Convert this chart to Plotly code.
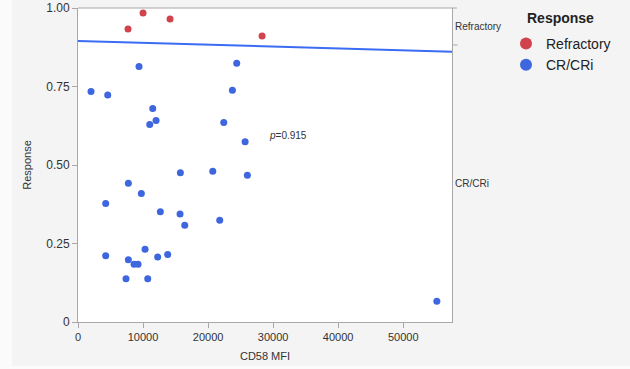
import plotly.graph_objects as go

# Data
refractory_x = [7690, 10000, 14150, 28300]
refractory_y = [0.933, 0.984, 0.965, 0.911]

cr_x = [2000, 4570, 9380, 24400, 23740, 11490, 12000, 11030, 15740, 7740,
        9740, 4260, 12660, 22410, 25690, 20720, 26040, 15690, 16410, 4260,
        7740, 8620, 9230, 10310, 12250, 13790, 7380, 10720, 21790, 55170]
cr_y = [0.734, 0.723, 0.814, 0.824, 0.738, 0.680, 0.642, 0.629, 0.475, 0.442,
        0.409, 0.377, 0.351, 0.635, 0.574, 0.480, 0.467, 0.344, 0.308, 0.211,
        0.198, 0.184, 0.184, 0.232, 0.207, 0.215, 0.138, 0.138, 0.324, 0.066]

fit_x = [0, 57500]
fit_y = [0.895, 0.861]

x_ticks = [0, 10000, 20000, 30000, 40000, 50000]
x_tick_text = ["0", "10000", "20000", "30000", "40000", "50000"]
y_ticks = [0, 0.25, 0.5, 0.75, 1.0]
y_tick_text = ["0", "0.25", "0.50", "0.75", "1.00"]

p_label = "<i>p</i>=0.915"
p_pos = (32300, 0.594)

RED = "#d0434c"
BLUE = "#3e66de"
LINE = "#3a6cf4"
AXIS = "#a8a8a8"
TXT = "#333333"
FONT = "Liberation Sans, Arial, sans-serif"

cr_frac = len(cr_x) / (len(cr_x) + len(refractory_x))

fig = go.Figure()
fig.add_trace(go.Scatter(x=fit_x, y=fit_y, mode="lines",
                         line=dict(color=LINE, width=2), showlegend=False,
                         hoverinfo="skip"))
fig.add_trace(go.Scatter(x=refractory_x, y=refractory_y, mode="markers",
                         name="Refractory",
                         marker=dict(color=RED, size=7)))
fig.add_trace(go.Scatter(x=cr_x, y=cr_y, mode="markers", name="CR/CRi",
                         marker=dict(color=BLUE, size=7)))
fig.add_trace(go.Scatter(x=[None], y=[None], yaxis="y2", showlegend=False))

fig.add_annotation(x=p_pos[0], y=p_pos[1], text=p_label, showarrow=False,
                   font=dict(size=10, color=TXT, family=FONT))
# legend title
fig.add_annotation(x=(525 - 78) / 374, y=(322 - 18) / 314, xref="paper",
                   yref="paper", xanchor="left", yanchor="middle",
                   text="<b>Response</b>", showarrow=False,
                   font=dict(size=14, color="#222222", family=FONT))

# white outer strips (left and bottom of the image)
fig.add_shape(type="rect", xref="paper", yref="paper", layer="below",
              x0=-0.3, x1=(12 - 78) / 374, y0=-0.2, y1=1.1,
              fillcolor="#fbfbfb", line=dict(width=0))
fig.add_shape(type="rect", xref="paper", yref="paper", layer="below",
              x0=-0.3, x1=1.6, y0=-0.2, y1=(322 - 366) / 314,
              fillcolor="#fbfbfb", line=dict(width=0))

# right axis tick at the category boundary
fig.add_shape(type="line", xref="paper", yref="y", x0=1.0, x1=1.015,
              y0=cr_frac, y1=cr_frac, line=dict(color=AXIS, width=1))
# top border
fig.add_shape(type="line", xref="paper", yref="paper", x0=0, x1=1.013,
              y0=1, y1=1, line=dict(color=AXIS, width=1))

fig.update_layout(
    width=630, height=369,
    margin=dict(l=78, r=178, t=8, b=47, autoexpand=False),
    paper_bgcolor="#f4f4f4",
    plot_bgcolor="#ffffff",
    font=dict(family=FONT, color=TXT, size=11),
    xaxis=dict(range=[0, 57500], tickvals=x_ticks, ticktext=x_tick_text,
               showgrid=False, automargin=False,
               zeroline=False, showline=True, linecolor=AXIS, linewidth=1,
               ticks="outside", ticklen=5, tickcolor=AXIS,
               title=dict(text="CD58 MFI", font=dict(size=11), standoff=10),
               tickfont=dict(size=11)),
    yaxis=dict(range=[0, 1.0], tickvals=y_ticks, ticktext=y_tick_text,
               showgrid=False, zeroline=False, showline=True, linecolor=AXIS,
               automargin=False,
               linewidth=1, ticks="outside", ticklen=5, tickcolor=AXIS,
               title=dict(text="Response", font=dict(size=11), standoff=12),
               tickfont=dict(size=12)),
    yaxis2=dict(range=[0, 1.0], overlaying="y", side="right",
                tickvals=[cr_frac / 2, (1 + cr_frac) / 2],
                ticktext=["CR/CRi", "Refractory"], ticks="",
                automargin=False,
                showgrid=False, zeroline=False, showline=True,
                linecolor=AXIS, linewidth=1, tickfont=dict(size=10)),
    legend=dict(x=(506 - 78) / 374, y=(322 - 28) / 314,
                xanchor="left", yanchor="top",
                font=dict(size=14, color="#222222"),
                bgcolor="rgba(0,0,0,0)",
                itemsizing="constant", tracegroupgap=0),
)

fig.write_html("out.html", config={"displayModeBar": False},
               post_script="document.body.style.margin='0';")
